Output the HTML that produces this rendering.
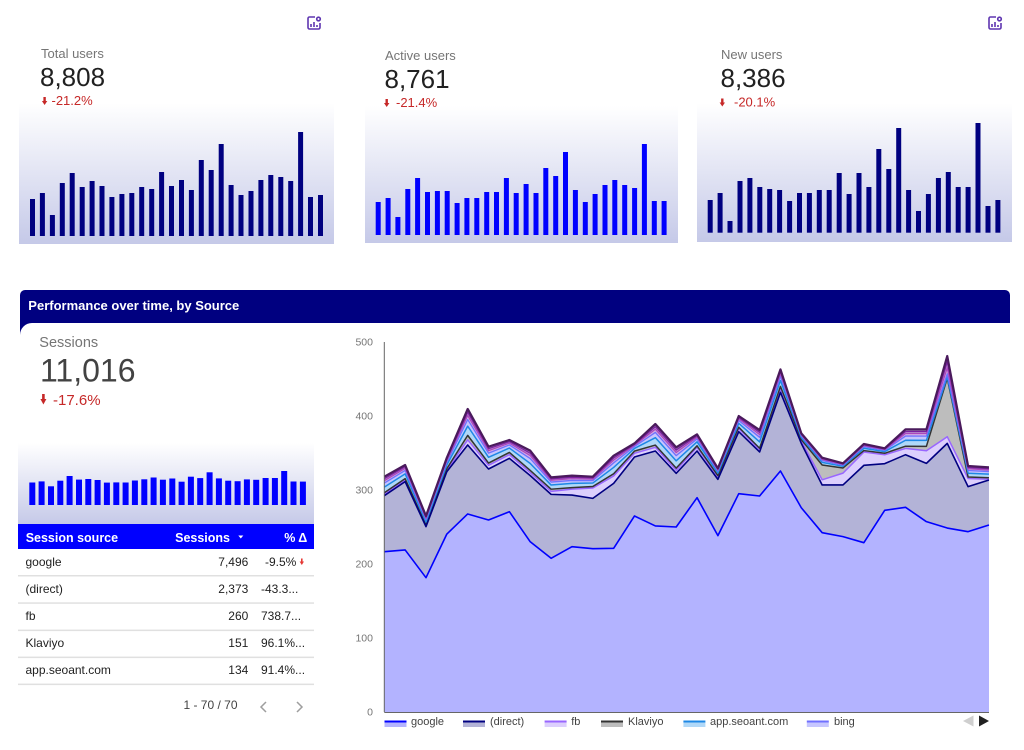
<!DOCTYPE html>
<html>
<head>
<meta charset="utf-8">
<style>
  html,body{margin:0;padding:0;background:#fff;}
  body{width:1024px;height:750px;overflow:hidden;}
  svg{display:block;}
  text{font-family:"Liberation Sans", sans-serif;}
</style>
</head>
<body>
<svg width="1024" height="750" viewBox="0 0 1024 750" xmlns="http://www.w3.org/2000/svg">
  <defs>
    <linearGradient id="sg" x1="0" y1="0" x2="0" y2="1">
      <stop offset="0" stop-color="#ffffff"/>
      <stop offset="1" stop-color="#c5c9e8"/>
    </linearGradient>
  </defs>

  <!-- ===== Card 1 ===== -->
  <rect x="19" y="103" width="315" height="141" fill="url(#sg)"/>
  <g transform="translate(307,16)" fill="none" stroke="#5e35b1" stroke-width="1.6">
    <path d="M8,1 H2.5 A1.5,1.5 0 0 0 1,2.5 V11.5 A1.5,1.5 0 0 0 2.5,13 H11.5 A1.5,1.5 0 0 0 13,11.5 V7"/>
    <line x1="4" y1="8" x2="4" y2="11"/><line x1="7" y1="6" x2="7" y2="11"/><line x1="10" y1="9" x2="10" y2="11"/>
    <circle cx="11.5" cy="3" r="1.8"/>
  </g>
  <text x="41" y="58" font-size="13" fill="#757575">Total users</text>
  <text x="40" y="86" font-size="26" fill="#212121">8,808</text>
  <g fill="#c62828"><rect x="43.4" y="97" width="2.4" height="4.5"/><polygon points="41.9,101 47.3,101 44.6,105"/></g>
  <text x="51.5" y="105" font-size="13" fill="#c62828">-21.2%</text>
  <g fill="#000080">
    <rect x="30.0" y="199" width="5" height="37"/>
    <rect x="39.9" y="193" width="5" height="43"/>
    <rect x="49.9" y="215" width="5" height="21"/>
    <rect x="59.8" y="183" width="5" height="53"/>
    <rect x="69.7" y="173" width="5" height="63"/>
    <rect x="79.7" y="187" width="5" height="49"/>
    <rect x="89.6" y="181" width="5" height="55"/>
    <rect x="99.5" y="186" width="5" height="50"/>
    <rect x="109.4" y="197" width="5" height="39"/>
    <rect x="119.4" y="194" width="5" height="42"/>
    <rect x="129.3" y="193" width="5" height="43"/>
    <rect x="139.2" y="187" width="5" height="49"/>
    <rect x="149.2" y="189" width="5" height="47"/>
    <rect x="159.1" y="172" width="5" height="64"/>
    <rect x="169.0" y="186" width="5" height="50"/>
    <rect x="179.0" y="180" width="5" height="56"/>
    <rect x="188.9" y="190" width="5" height="46"/>
    <rect x="198.8" y="160" width="5" height="76"/>
    <rect x="208.7" y="170" width="5" height="66"/>
    <rect x="218.7" y="144" width="5" height="92"/>
    <rect x="228.6" y="185" width="5" height="51"/>
    <rect x="238.5" y="195" width="5" height="41"/>
    <rect x="248.5" y="191" width="5" height="45"/>
    <rect x="258.4" y="180" width="5" height="56"/>
    <rect x="268.3" y="175" width="5" height="61"/>
    <rect x="278.3" y="177" width="5" height="59"/>
    <rect x="288.2" y="181" width="5" height="55"/>
    <rect x="298.1" y="132" width="5" height="104"/>
    <rect x="308.0" y="197" width="5" height="39"/>
    <rect x="318.0" y="195" width="5" height="41"/>
  </g>

  <!-- ===== Card 2 ===== -->
  <rect x="365" y="106" width="313" height="137" fill="url(#sg)"/>
  <text x="385" y="60" font-size="13" fill="#757575">Active users</text>
  <text x="384.5" y="88" font-size="26" fill="#212121">8,761</text>
  <g fill="#c62828"><rect x="385.5" y="99" width="2.4" height="4.5"/><polygon points="384,103 389.4,103 386.7,107"/></g>
  <text x="396" y="107" font-size="13" fill="#c62828">-21.4%</text>
  <g fill="#0000ff">
    <rect x="375.7" y="202" width="5" height="33"/>
    <rect x="385.6" y="198" width="5" height="37"/>
    <rect x="395.4" y="217" width="5" height="18"/>
    <rect x="405.3" y="189" width="5" height="46"/>
    <rect x="415.1" y="178" width="5" height="57"/>
    <rect x="425.0" y="192" width="5" height="43"/>
    <rect x="434.9" y="191" width="5" height="44"/>
    <rect x="444.7" y="191" width="5" height="44"/>
    <rect x="454.6" y="203" width="5" height="32"/>
    <rect x="464.4" y="198" width="5" height="37"/>
    <rect x="474.3" y="198" width="5" height="37"/>
    <rect x="484.2" y="192" width="5" height="43"/>
    <rect x="494.0" y="192" width="5" height="43"/>
    <rect x="503.9" y="178" width="5" height="57"/>
    <rect x="513.7" y="193" width="5" height="42"/>
    <rect x="523.6" y="184" width="5" height="51"/>
    <rect x="533.5" y="193" width="5" height="42"/>
    <rect x="543.3" y="168" width="5" height="67"/>
    <rect x="553.2" y="176" width="5" height="59"/>
    <rect x="563.0" y="152" width="5" height="83"/>
    <rect x="572.9" y="190" width="5" height="45"/>
    <rect x="582.8" y="202" width="5" height="33"/>
    <rect x="592.6" y="194" width="5" height="41"/>
    <rect x="602.5" y="185" width="5" height="50"/>
    <rect x="612.3" y="180" width="5" height="55"/>
    <rect x="622.2" y="185" width="5" height="50"/>
    <rect x="632.1" y="188" width="5" height="47"/>
    <rect x="641.9" y="144" width="5" height="91"/>
    <rect x="651.8" y="201" width="5" height="34"/>
    <rect x="661.6" y="201" width="5" height="34"/>
  </g>

  <!-- ===== Card 3 ===== -->
  <rect x="697" y="103" width="315" height="139" fill="url(#sg)"/>
  <g transform="translate(988,16)" fill="none" stroke="#5e35b1" stroke-width="1.6">
    <path d="M8,1 H2.5 A1.5,1.5 0 0 0 1,2.5 V11.5 A1.5,1.5 0 0 0 2.5,13 H11.5 A1.5,1.5 0 0 0 13,11.5 V7"/>
    <line x1="4" y1="8" x2="4" y2="11"/><line x1="7" y1="6" x2="7" y2="11"/><line x1="10" y1="9" x2="10" y2="11"/>
    <circle cx="11.5" cy="3" r="1.8"/>
  </g>
  <text x="721" y="59" font-size="13" fill="#757575">New users</text>
  <text x="720.5" y="87" font-size="26" fill="#212121">8,386</text>
  <g fill="#c62828"><rect x="721.1" y="98.5" width="2.4" height="4.5"/><polygon points="719.6,102.5 725,102.5 722.3,106.5"/></g>
  <text x="734" y="106.5" font-size="13" fill="#c62828">-20.1%</text>
  <g fill="#000080">
    <rect x="707.7" y="200" width="5" height="32.7"/>
    <rect x="717.6" y="193" width="5" height="39.7"/>
    <rect x="727.5" y="221" width="5" height="11.7"/>
    <rect x="737.5" y="181" width="5" height="51.7"/>
    <rect x="747.4" y="178" width="5" height="54.7"/>
    <rect x="757.3" y="187" width="5" height="45.7"/>
    <rect x="767.2" y="189" width="5" height="43.7"/>
    <rect x="777.1" y="190" width="5" height="42.7"/>
    <rect x="787.1" y="201" width="5" height="31.7"/>
    <rect x="797.0" y="193" width="5" height="39.7"/>
    <rect x="806.9" y="193" width="5" height="39.7"/>
    <rect x="816.8" y="190" width="5" height="42.7"/>
    <rect x="826.7" y="190" width="5" height="42.7"/>
    <rect x="836.7" y="173" width="5" height="59.7"/>
    <rect x="846.6" y="194" width="5" height="38.7"/>
    <rect x="856.5" y="173" width="5" height="59.7"/>
    <rect x="866.4" y="187" width="5" height="45.7"/>
    <rect x="876.3" y="149" width="5" height="83.7"/>
    <rect x="886.3" y="169" width="5" height="63.7"/>
    <rect x="896.2" y="128" width="5" height="104.7"/>
    <rect x="906.1" y="190" width="5" height="42.7"/>
    <rect x="916.0" y="211" width="5" height="21.7"/>
    <rect x="925.9" y="194" width="5" height="38.7"/>
    <rect x="935.9" y="178" width="5" height="54.7"/>
    <rect x="945.8" y="172" width="5" height="60.7"/>
    <rect x="955.7" y="187" width="5" height="45.7"/>
    <rect x="965.6" y="187" width="5" height="45.7"/>
    <rect x="975.5" y="123" width="5" height="109.7"/>
    <rect x="985.5" y="206" width="5" height="26.7"/>
    <rect x="995.4" y="200" width="5" height="32.7"/>
  </g>

  <!-- ===== Performance header ===== -->
  <rect x="20" y="290" width="990" height="33" rx="5" fill="#000080"/>
  <rect x="20" y="305" width="990" height="18" fill="#000080"/>
  <rect x="20" y="322" width="20" height="16" fill="#000080"/>
  <path d="M20,340 L20,335 A12,12 0 0 1 32,323 L42,323 L42,340 Z" fill="#ffffff"/>
  <text x="28.3" y="310" font-size="13" font-weight="bold" fill="#ffffff">Performance over time, by Source</text>

  <!-- Sessions scorecard -->
  <text x="39.3" y="347" font-size="14.5" fill="#757575">Sessions</text>
  <text x="40" y="381.7" font-size="32" fill="#424242">11,016</text>
  <g fill="#c62828"><rect x="42.1" y="394" width="2.6" height="5.5"/><polygon points="40.4,399 46.4,399 43.4,404.5"/></g>
  <text x="53" y="405" font-size="15" fill="#c62828">-17.6%</text>

  <rect x="18" y="443" width="296" height="82" fill="url(#sg)"/>
  <g fill="#0000ff">
    <rect x="29.3" y="482.5" width="6" height="22.5"/>
    <rect x="38.6" y="481.4" width="6" height="23.6"/>
    <rect x="48.0" y="486.3" width="6" height="18.7"/>
    <rect x="57.3" y="480.7" width="6" height="24.3"/>
    <rect x="66.6" y="476.0" width="6" height="29.0"/>
    <rect x="76.0" y="479.6" width="6" height="25.4"/>
    <rect x="85.3" y="479.0" width="6" height="26.0"/>
    <rect x="94.6" y="480.0" width="6" height="25.0"/>
    <rect x="103.9" y="482.6" width="6" height="22.4"/>
    <rect x="113.3" y="482.4" width="6" height="22.6"/>
    <rect x="122.6" y="482.5" width="6" height="22.5"/>
    <rect x="131.9" y="480.5" width="6" height="24.5"/>
    <rect x="141.3" y="479.3" width="6" height="25.7"/>
    <rect x="150.6" y="477.5" width="6" height="27.5"/>
    <rect x="159.9" y="479.7" width="6" height="25.3"/>
    <rect x="169.3" y="478.5" width="6" height="26.5"/>
    <rect x="178.6" y="481.7" width="6" height="23.3"/>
    <rect x="187.9" y="476.7" width="6" height="28.3"/>
    <rect x="197.2" y="478.1" width="6" height="26.9"/>
    <rect x="206.6" y="472.3" width="6" height="32.7"/>
    <rect x="215.9" y="478.4" width="6" height="26.6"/>
    <rect x="225.2" y="480.7" width="6" height="24.3"/>
    <rect x="234.6" y="481.2" width="6" height="23.8"/>
    <rect x="243.9" y="479.4" width="6" height="25.6"/>
    <rect x="253.2" y="479.8" width="6" height="25.2"/>
    <rect x="262.6" y="478.0" width="6" height="27.0"/>
    <rect x="271.9" y="478.0" width="6" height="27.0"/>
    <rect x="281.2" y="471.0" width="6" height="34.0"/>
    <rect x="290.5" y="481.5" width="6" height="23.5"/>
    <rect x="299.9" y="481.6" width="6" height="23.4"/>
  </g>

  <!-- Table -->
  <rect x="18" y="524" width="296" height="25" fill="#0000ff"/>
  <text x="25.7" y="542" font-size="12.5" font-weight="bold" fill="#ffffff">Session source</text>
  <text x="230" y="542" font-size="12.5" font-weight="bold" fill="#ffffff" text-anchor="end">Sessions</text>
  <polygon points="238.3,535.5 243.3,535.5 240.8,538.5" fill="#ffffff"/>
  <text x="307.3" y="542" font-size="12.5" font-weight="bold" fill="#ffffff" text-anchor="end">% Δ</text>

  <g font-size="12" fill="#212121">
    <text x="25.5" y="566">google</text>
    <text x="248.3" y="566" text-anchor="end">7,496</text>
    <text x="265" y="566">-9.5%</text>
    <text x="25.5" y="593">(direct)</text>
    <text x="248.3" y="593" text-anchor="end">2,373</text>
    <text x="261" y="593">-43.3...</text>
    <text x="25.5" y="620">fb</text>
    <text x="248.3" y="620" text-anchor="end">260</text>
    <text x="261" y="620">738.7...</text>
    <text x="25.5" y="647">Klaviyo</text>
    <text x="248.3" y="647" text-anchor="end">151</text>
    <text x="261" y="647">96.1%...</text>
    <text x="25.5" y="674">app.seoant.com</text>
    <text x="248.3" y="674" text-anchor="end">134</text>
    <text x="261" y="674">91.4%...</text>
  </g>
  <g fill="#e53935"><rect x="301" y="558.5" width="1.6" height="3.5"/><polygon points="299.6,561.5 304,561.5 301.8,565"/></g>
  <g fill="#e0e0e0">
    <rect x="18" y="575" width="296" height="1.5"/>
    <rect x="18" y="602.3" width="296" height="1.5"/>
    <rect x="18" y="629.6" width="296" height="1.5"/>
    <rect x="18" y="656.6" width="296" height="1.5"/>
    <rect x="18" y="683.6" width="296" height="1.5"/>
  </g>
  <text x="210.5" y="709" font-size="12" fill="#424242" text-anchor="middle">1 - 70 / 70</text>
  <polyline points="266,702 261,707 266,712" fill="none" stroke="#9e9e9e" stroke-width="1.5"/>
  <polyline points="297,702 302,707 297,712" fill="none" stroke="#9e9e9e" stroke-width="1.5"/>

  <!-- ===== Stacked area chart ===== -->
  <g transform="translate(384.3 712) scale(20.85 -0.74)">
    <!-- top / others -->
    <polygon fill="#9b6db0" points="0,0 0,318 1,333.8 2,264.9 3,343.7 4,409.5 5,358.6 6,367.6 7,353.2 8,317.1 9,319.4 10,318 11,346.4 12,363 13,389.2 14,357.7 15,375.2 16,329.3 17,400 18,381 19,463 20,376.6 21,343.7 22,336 23,362.2 24,356.3 25,382 26,382 27,481 28,332.4 29,330.6 29,0"/>
    <polygon fill="#b98ccc" points="0,0 0,315.2 1,331.4 2,263.3 3,341.7 4,404.9 5,355.8 6,365.4 7,349.7 8,315 9,317.2 10,316.3 11,343.2 12,361.6 13,385.5 14,354 15,373.2 16,328.1 17,398 18,377.9 19,460.1 20,375.5 21,342.5 22,335.2 23,361 24,355.4 25,379 26,379.1 27,473 28,330.4 29,328.7 29,0"/>
    <polygon fill="#d4b0e4" points="0,0 0,312.6 1,329.2 2,261.8 3,339.9 4,400.6 5,353.1 6,363.4 7,346.5 8,313.1 9,315.3 10,314.7 11,340.3 12,360.4 13,382.1 14,350.6 15,371.3 16,326.9 17,396.2 18,374.9 19,457.3 20,374.5 21,341.3 22,334.5 23,359.9 24,354.6 25,376.3 26,376.3 27,465 28,328.6 29,327 29,0"/>
    <!-- bing -->
    <polygon fill="#c6c6ff" points="0,0 0,309.3 1,326.4 2,259.9 3,337.7 4,395.2 5,349.8 6,360.9 7,342.5 8,310.7 9,312.9 10,312.7 11,336.6 12,358.8 13,377.8 14,346.4 15,369 16,325.4 17,393.9 18,371.2 19,453.8 20,373.2 21,339.8 22,333.6 23,358.6 24,353.6 25,372.9 26,372.8 27,457 28,326.4 29,324.9 29,0"/>
    <!-- app.seoant.com -->
    <polygon fill="#b0d8f8" points="0,0 0,303.9 1,321.8 2,256.8 3,334 4,386.3 5,344.2 6,356.7 7,335.8 8,306.7 9,308.9 10,309.4 11,330.5 12,356.2 13,370.7 14,339.4 15,365.1 16,322.9 17,390.1 18,365 19,448 20,371 21,337.3 22,332 23,356.4 24,351.9 25,367.2 26,367 27,453 28,322.7 29,321.4 29,0"/>
    <!-- Klaviyo -->
    <polygon fill="#bdbdbd" points="0,0 0,296.3 1,315.3 2,252.5 3,328.8 4,373.8 5,336.4 6,350.8 7,326.4 8,301.1 9,303.2 10,304.7 11,322 12,352.6 13,360.7 14,329.5 15,359.7 16,319.4 17,384.8 18,356.4 19,440 20,368 21,333.8 22,329.8 23,353.3 24,349.6 25,359.2 26,359 27,451 28,317.5 29,316.5 29,0"/>
    <!-- fb -->
    <polygon fill="#dccffd" points="0,0 0,294.3 1,313.3 2,251.5 3,326.8 4,367.8 5,333.4 6,347.8 7,323.4 8,298.1 9,301.2 10,302.7 11,319 12,349.6 13,357.7 14,326.5 15,357.7 16,317.4 17,382.8 18,354.4 19,437 20,366 21,313.8 22,322.8 23,351.3 24,347.6 25,356.2 26,353 27,372 28,315.5 29,314.5 29,0"/>
    <!-- direct -->
    <polygon fill="#b3b3d7" points="0,0 0,292.3 1,311.3 2,250.5 3,324.8 4,360.8 5,328.4 6,342.8 7,319.4 8,294.1 9,293.2 10,288.7 11,309 12,344.6 13,352.7 14,322.5 15,352.7 16,314.4 17,378.8 18,351.4 19,432 20,363 21,306.8 22,306.8 23,333.3 24,335.6 25,347.7 26,336 27,363 28,304.5 29,313.5 29,0"/>
    <!-- google -->
    <polygon fill="#b3b3ff" points="0,0 0,216.6 1,219 2,181.5 3,240.5 4,267.6 5,259.5 6,270.7 7,230 8,207.7 9,223.4 10,220.7 11,221.2 12,264.9 13,251.4 14,250 15,289.6 16,238.3 17,295 18,291.9 19,325.7 20,276 21,242.3 22,237 23,228.8 24,272.5 25,276.6 26,257.2 27,248.6 28,243.7 29,252.7 29,0"/>

    <g fill="none" stroke-linejoin="round">
      <polyline vector-effect="non-scaling-stroke" stroke="#9966ff" stroke-width="1.5" points="0,294.3 1,313.3 2,251.5 3,326.8 4,367.8 5,333.4 6,347.8 7,323.4 8,298.1 9,301.2 10,302.7 11,319 12,349.6 13,357.7 14,326.5 15,357.7 16,317.4 17,382.8 18,354.4 19,437 20,366 21,313.8 22,322.8 23,351.3 24,347.6 25,356.2 26,353 27,372 28,315.5 29,314.5"/>
      <polyline vector-effect="non-scaling-stroke" stroke="#333333" stroke-width="1.5" points="0,296.3 1,315.3 2,252.5 3,328.8 4,373.8 5,336.4 6,350.8 7,326.4 8,301.1 9,303.2 10,304.7 11,322 12,352.6 13,360.7 14,329.5 15,359.7 16,319.4 17,384.8 18,356.4 19,440 20,368 21,333.8 22,329.8 23,353.3 24,349.6 25,359.2 26,359 27,451 28,317.5 29,316.5"/>
      <polyline vector-effect="non-scaling-stroke" stroke="#1e88e5" stroke-width="1.5" points="0,303.9 1,321.8 2,256.8 3,334 4,386.3 5,344.2 6,356.7 7,335.8 8,306.7 9,308.9 10,309.4 11,330.5 12,356.2 13,370.7 14,339.4 15,365.1 16,322.9 17,390.1 18,365 19,448 20,371 21,337.3 22,332 23,356.4 24,351.9 25,367.2 26,367 27,453 28,322.7 29,321.4"/>
      <polyline vector-effect="non-scaling-stroke" stroke="#7070ff" stroke-width="1.3" points="0,309.3 1,326.4 2,259.9 3,337.7 4,395.2 5,349.8 6,360.9 7,342.5 8,310.7 9,312.9 10,312.7 11,336.6 12,358.8 13,377.8 14,346.4 15,369 16,325.4 17,393.9 18,371.2 19,453.8 20,373.2 21,339.8 22,333.6 23,358.6 24,353.6 25,372.9 26,372.8 27,457 28,326.4 29,324.9"/>
      <polyline vector-effect="non-scaling-stroke" stroke="#ab47bc" stroke-width="1.2" points="0,312.6 1,329.2 2,261.8 3,339.9 4,400.6 5,353.1 6,363.4 7,346.5 8,313.1 9,315.3 10,314.7 11,340.3 12,360.4 13,382.1 14,350.6 15,371.3 16,326.9 17,396.2 18,374.9 19,457.3 20,374.5 21,341.3 22,334.5 23,359.9 24,354.6 25,376.3 26,376.3 27,465 28,328.6 29,327"/>
      <polyline vector-effect="non-scaling-stroke" stroke="#7b1fa2" stroke-width="1.2" points="0,315.2 1,331.4 2,263.3 3,341.7 4,404.9 5,355.8 6,365.4 7,349.7 8,315 9,317.2 10,316.3 11,343.2 12,361.6 13,385.5 14,354 15,373.2 16,328.1 17,398 18,377.9 19,460.1 20,375.5 21,342.5 22,335.2 23,361 24,355.4 25,379 26,379.1 27,473 28,330.4 29,328.7"/>
      <polyline vector-effect="non-scaling-stroke" stroke="#4a1a5c" stroke-width="2.2" points="0,318 1,333.8 2,264.9 3,343.7 4,409.5 5,358.6 6,367.6 7,353.2 8,317.1 9,319.4 10,318 11,346.4 12,363 13,389.2 14,357.7 15,375.2 16,329.3 17,400 18,381 19,463 20,376.6 21,343.7 22,336 23,362.2 24,356.3 25,382 26,382 27,481 28,332.4 29,330.6"/>
      <polyline vector-effect="non-scaling-stroke" stroke="#000080" stroke-width="1.6" points="0,292.3 1,311.3 2,250.5 3,324.8 4,360.8 5,328.4 6,342.8 7,319.4 8,294.1 9,293.2 10,288.7 11,309 12,344.6 13,352.7 14,322.5 15,352.7 16,314.4 17,378.8 18,351.4 19,432 20,363 21,306.8 22,306.8 23,333.3 24,335.6 25,347.7 26,336 27,363 28,304.5 29,313.5"/>
      <polyline vector-effect="non-scaling-stroke" stroke="#0000ff" stroke-width="1.6" points="0,216.6 1,219 2,181.5 3,240.5 4,267.6 5,259.5 6,270.7 7,230 8,207.7 9,223.4 10,220.7 11,221.2 12,264.9 13,251.4 14,250 15,289.6 16,238.3 17,295 18,291.9 19,325.7 20,276 21,242.3 22,237 23,228.8 24,272.5 25,276.6 26,257.2 27,248.6 28,243.7 29,252.7"/>
    </g>
  </g>

  <!-- axes -->
  <line x1="384.3" y1="342" x2="384.3" y2="712" stroke="#666" stroke-width="1"/>
  <line x1="384.3" y1="712.5" x2="989" y2="712.5" stroke="#666" stroke-width="1"/>
  <g font-size="10.5" fill="#757575" text-anchor="end">
    <text x="373" y="345.7">500</text>
    <text x="373" y="419.7">400</text>
    <text x="373" y="493.7">300</text>
    <text x="373" y="567.7">200</text>
    <text x="373" y="641.7">100</text>
    <text x="373" y="715.7">0</text>
  </g>

  <!-- legend -->
  <rect x="384.5" y="722.5" width="22" height="4.5" fill="#b3b3ff"/><rect x="384.5" y="720.5" width="22" height="2" fill="#0000ff"/>
  <text x="411" y="725" font-size="11" fill="#424242">google</text>
  <rect x="463" y="722.5" width="22" height="4.5" fill="#b3b3d7"/><rect x="463" y="720.5" width="22" height="2" fill="#000080"/>
  <text x="490" y="725" font-size="11" fill="#424242">(direct)</text>
  <rect x="544.6" y="722.5" width="22" height="4.5" fill="#dccffd"/><rect x="544.6" y="720.5" width="22" height="2" fill="#9966ff"/>
  <text x="571.2" y="725" font-size="11" fill="#424242">fb</text>
  <rect x="601" y="722.5" width="22" height="4.5" fill="#bdbdbd"/><rect x="601" y="720.5" width="22" height="2" fill="#333333"/>
  <text x="628" y="725" font-size="11" fill="#424242">Klaviyo</text>
  <rect x="683.4" y="722.5" width="22" height="4.5" fill="#b0d8f8"/><rect x="683.4" y="720.5" width="22" height="2" fill="#1e88e5"/>
  <text x="710" y="725" font-size="11" fill="#424242">app.seoant.com</text>
  <rect x="806.8" y="722.5" width="22" height="4.5" fill="#c6c6ff"/><rect x="806.8" y="720.5" width="22" height="2" fill="#7070ff"/>
  <text x="834" y="725" font-size="11" fill="#424242">bing</text>
  <polygon points="973.5,715.5 973.5,726.5 963,721" fill="#cfcfcf"/>
  <polygon points="979,715.5 979,726.5 989,721" fill="#212121"/>
</svg>
</body>
</html>
